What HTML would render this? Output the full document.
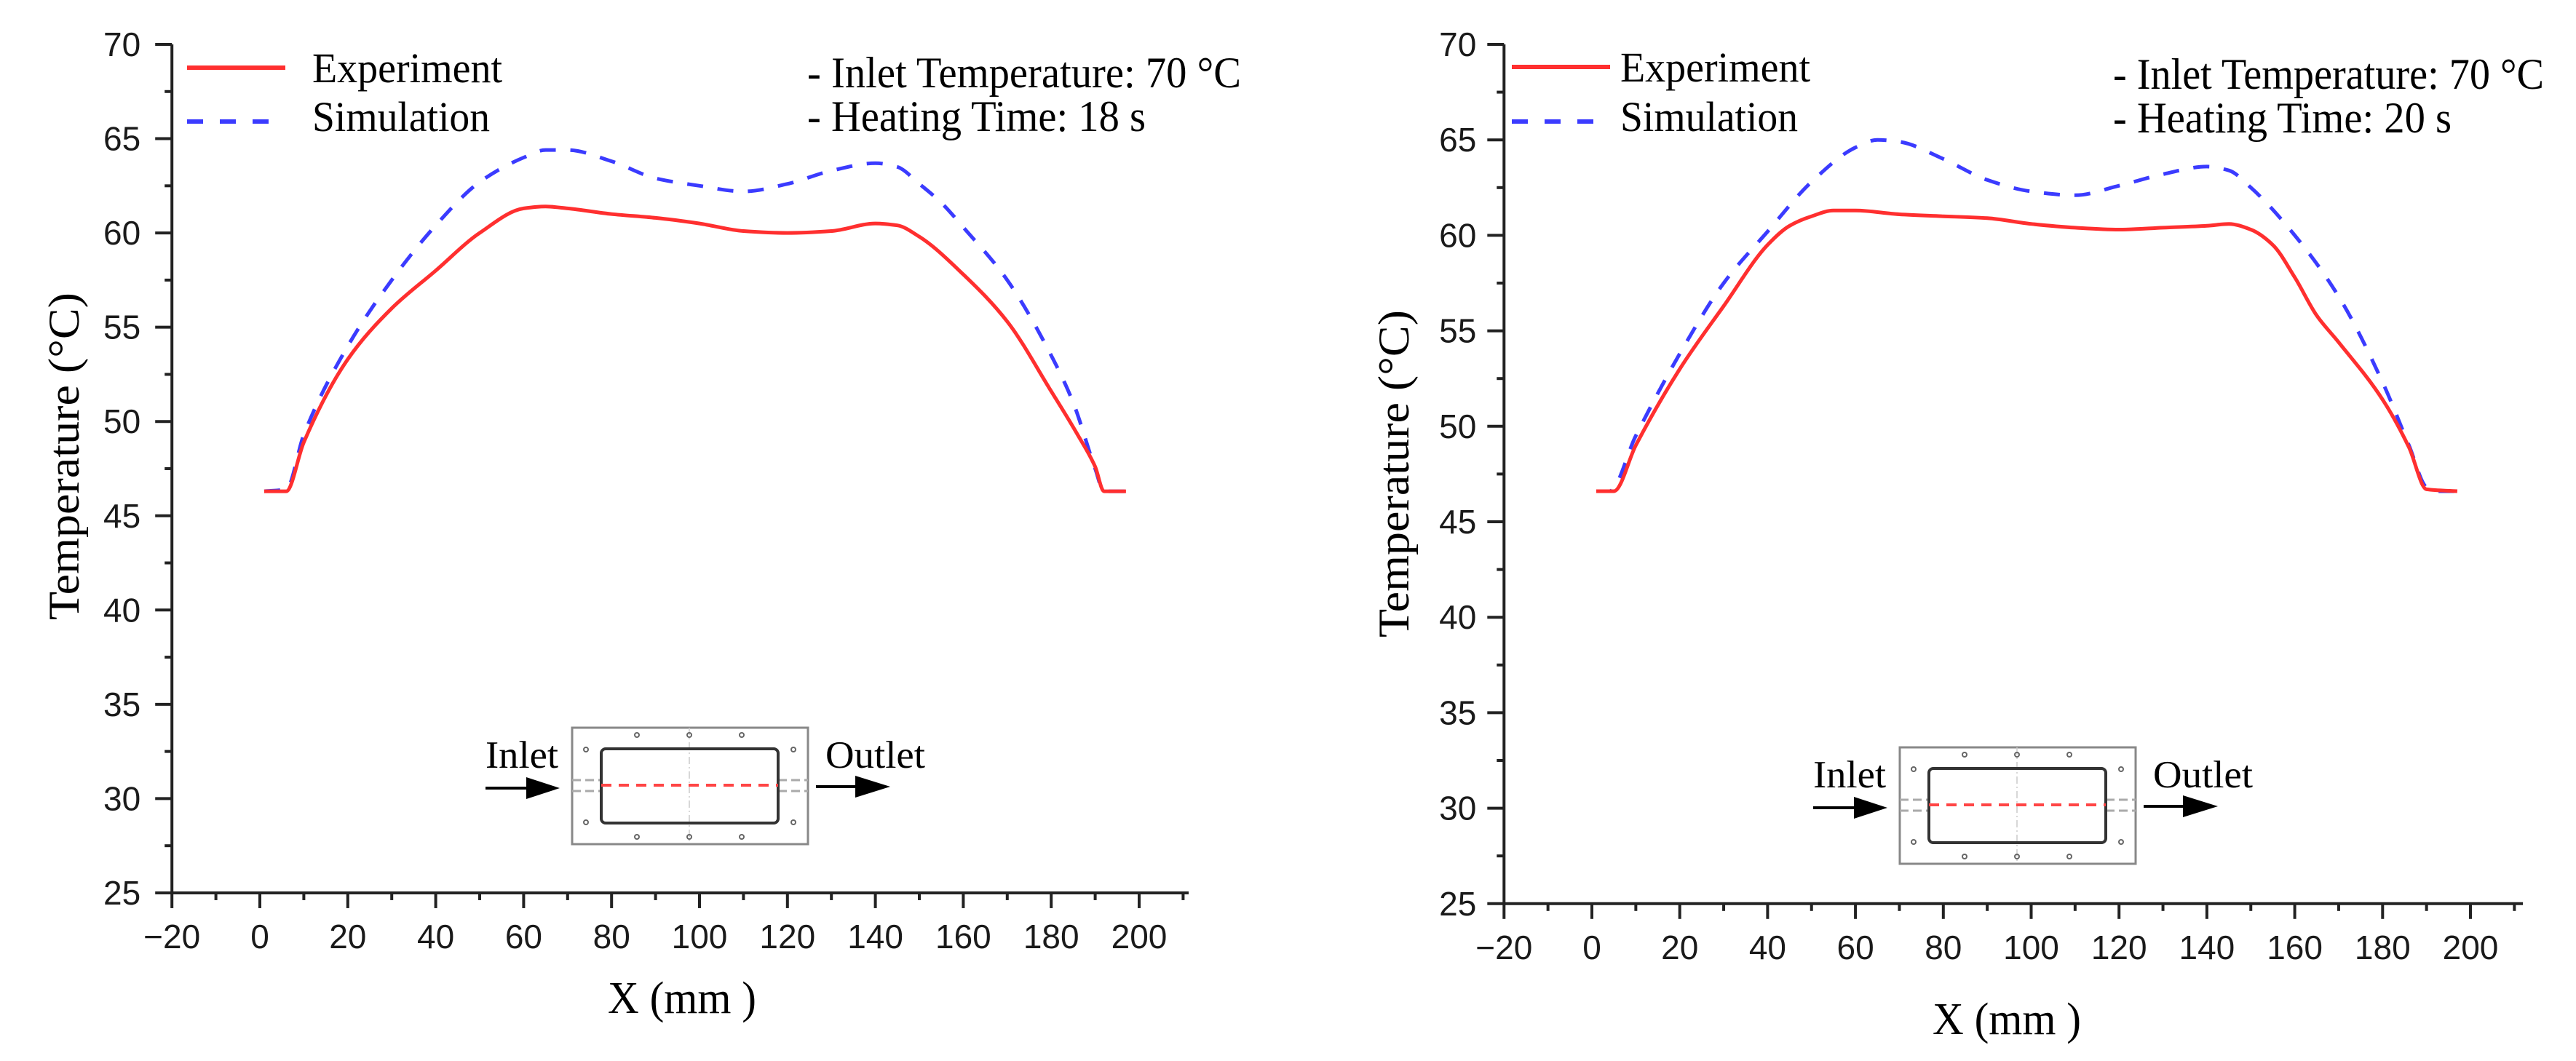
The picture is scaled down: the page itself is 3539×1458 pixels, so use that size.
<!DOCTYPE html>
<html><head><meta charset="utf-8"><style>
html,body{margin:0;padding:0;background:#fff;}
svg{display:block;}
.tick{font-family:"Liberation Sans",Arial,sans-serif;font-size:46px;fill:#1a1a1a;}
.serif{font-family:"Liberation Serif","Times New Roman",serif;fill:#000;}
</style></head><body>
<svg id="fig" width="3539" height="1458" viewBox="0 0 3539 1458" xmlns="http://www.w3.org/2000/svg">
<g id="left"></g>
<g id="right"></g>
</svg>
<script>
// ---- data ----
const xLeft = [1, 6, 10, 20, 30, 40, 50, 60, 65, 70, 80, 90, 100, 110, 120, 130, 140, 145, 150, 160, 170, 180, 186, 190, 192, 197];
const expLeft = [46.3, 46.3, 48.9, 53.3, 56.0, 58.0, 60.0, 61.3, 61.4, 61.3, 61.0, 60.8, 60.5, 60.1, 60.0, 60.1, 60.5, 60.4, 59.8, 57.8, 55.3, 51.6, 49.3, 47.6, 46.3, 46.3];
const xSimLeft = [1, 6, 10, 20, 30, 40, 50, 60, 65, 70, 80, 90, 100, 110, 120, 130, 140, 145, 150, 155, 160, 170, 180, 185, 190, 192, 197];
const simLeft = [46.3, 46.4, 49.3, 54.0, 57.5, 60.4, 62.7, 64.0, 64.4, 64.4, 63.8, 62.9, 62.5, 62.2, 62.6, 63.3, 63.7, 63.5, 62.6, 61.6, 60.3, 57.5, 53.5, 51.0, 47.5, 46.3, 46.3];
const xRight = [1, 5, 10, 20, 30, 40, 45, 50, 55, 60, 70, 80, 90, 100, 110, 120, 130, 140, 145, 150, 155, 160, 165, 170, 180, 186, 190, 197];
const expRight = [46.6, 46.6, 49.0, 53.0, 56.3, 59.5, 60.5, 61.0, 61.3, 61.3, 61.1, 61.0, 60.9, 60.6, 60.4, 60.3, 60.4, 60.5, 60.6, 60.3, 59.5, 57.8, 55.8, 54.4, 51.4, 48.9, 46.7, 46.6];
const xSimRight = [1, 4, 10, 20, 30, 40, 50, 60, 65, 70, 80, 90, 100, 110, 120, 130, 140, 145, 150, 160, 170, 180, 186, 190, 192, 197];
const simRight = [46.6, 46.6, 49.5, 53.8, 57.5, 60.2, 62.8, 64.6, 65.0, 64.9, 64.0, 62.9, 62.3, 62.1, 62.6, 63.2, 63.6, 63.4, 62.5, 60.0, 56.8, 52.3, 49.0, 46.8, 46.6, 46.6];
const xTickLabels = ["-20","0","20","40","60","80","100","120","140","160","180","200"];
const xTickValues = [-20,0,20,40,60,80,100,120,140,160,180,200];
const yTickValues = [25,30,35,40,45,50,55,60,65,70];
const legendLabels = ["Experiment","Simulation"];
const infoLeft = ["- Inlet Temperature: 70 °C","- Heating Time: 18 s"];
const infoRight = ["- Inlet Temperature: 70 °C","- Heating Time: 20 s"];

const NS = "http://www.w3.org/2000/svg";
function mk(parent, tag, attrs, text){
  const e = document.createElementNS(NS, tag);
  for (const k in attrs) e.setAttribute(k, attrs[k]);
  if (text !== undefined) e.textContent = text;
  parent.appendChild(e);
  return e;
}
function smoothPath(pts){
  const n = pts.length;
  const dx = [], m = [], t = new Array(n);
  for (let i = 0; i < n-1; i++){ dx.push(pts[i+1][0]-pts[i][0]); m.push((pts[i+1][1]-pts[i][1])/dx[i]); }
  t[0] = m[0]; t[n-1] = m[n-2];
  for (let i = 1; i < n-1; i++){
    if (m[i-1]*m[i] <= 0) t[i] = 0;
    else { const w1 = 2*dx[i]+dx[i-1], w2 = dx[i]+2*dx[i-1]; t[i] = (w1+w2)/(w1/m[i-1]+w2/m[i]); }
  }
  let d = "M" + pts[0][0].toFixed(1) + "," + pts[0][1].toFixed(1);
  for (let i = 0; i < n-1; i++){
    const h = dx[i]/3;
    d += "C" + (pts[i][0]+h).toFixed(1)+","+(pts[i][1]+t[i]*h).toFixed(1)+" "+(pts[i+1][0]-h).toFixed(1)+","+(pts[i+1][1]-t[i+1]*h).toFixed(1)+" "+pts[i+1][0].toFixed(1)+","+pts[i+1][1].toFixed(1);
  }
  return d;
}

function chart(g, cfg){
  const X = v => cfg.x0 + v * cfg.kx;
  const Y = v => cfg.y70 + (70 - v) * cfg.ky;
  const axY = Y(25), axX = X(-20);
  let e;
  e = mk(g, "line", {x1:axX, y1:Y(70), x2:axX, y2:axY+2, stroke:"#222", "stroke-width":4});
  
  
  e = mk(g, "line", {x1:axX-2, y1:axY, x2:cfg.xEnd, y2:axY, stroke:"#222", "stroke-width":4});
  
  
  for (let v = 25; v <= 70.01; v += 2.5){
    const major = Math.abs(v % 5) < 0.01;
    e = mk(g, "line", {x1:axX - (major?23:10), y1:Y(v), x2:axX, y2:Y(v), stroke:"#222", "stroke-width":4});
    
    
  }
  yTickValues.forEach(v => {
    e = mk(g, "text", {x:axX - cfg.labOff, y:Y(v)+16, "text-anchor":"end", class:"tick"}, String(v));
    
    
  });
  for (let v = -20; v <= 210; v += 10){
    const major = v % 20 === 0;
    e = mk(g, "line", {x1:X(v), y1:axY, x2:X(v), y2:axY + (major?21:10), stroke:"#222", "stroke-width":4});
    
    
  }
  xTickValues.forEach((v,i) => {
    e = mk(g, "text", {x:X(v), y:axY+76, "text-anchor":"middle", class:"tick"}, xTickLabels[i].replace("-","\u2212"));
    
    
  });
  e = mk(g, "text", {x:0, y:0, "text-anchor":"middle", class:"serif", "font-size":60, textLength:450, lengthAdjust:"spacingAndGlyphs", transform:`translate(${cfg.ytX},${cfg.ytY}) rotate(-90)`}, "Temperature (°C)");
  
  
  e = mk(g, "text", {x:cfg.xtX, y:cfg.xtY, "text-anchor":"middle", class:"serif", "font-size":62, textLength:204, lengthAdjust:"spacingAndGlyphs"}, "X (mm )");
  
  
  const sim = cfg.sx.map((x,i)=>[X(x),Y(cfg.sy[i])]);
  e = mk(g, "path", {d:smoothPath(sim), fill:"none", stroke:"#3b3bff", "stroke-width":5, "stroke-dasharray":"22 20"});
  
  
  const ex = cfg.ex.map((x,i)=>[X(x),Y(cfg.ey[i])]);
  e = mk(g, "path", {d:smoothPath(ex), fill:"none", stroke:"#ff2f2f", "stroke-width":5});
  
  
  e = mk(g, "line", {x1:cfg.lgX, y1:cfg.lgY1, x2:cfg.lgX+135, y2:cfg.lgY1, stroke:"#ff2f2f", "stroke-width":6});
  
  
  e = mk(g, "line", {x1:cfg.lgX, y1:cfg.lgY2, x2:cfg.lgX+135, y2:cfg.lgY2, stroke:"#3b3bff", "stroke-width":6, "stroke-dasharray":"22 23"});
  
  
  e = mk(g, "text", {x:cfg.ltX, y:cfg.lgY1+20, class:"serif", "font-size":58, textLength:261, lengthAdjust:"spacingAndGlyphs"}, legendLabels[0]);
  
  
  e = mk(g, "text", {x:cfg.ltX, y:cfg.lgY2+13, class:"serif", "font-size":58, textLength:244, lengthAdjust:"spacingAndGlyphs"}, legendLabels[1]);
  
  
  e = mk(g, "text", {x:cfg.inX, y:cfg.inY, class:"serif", "font-size":60, textLength:cfg.inW1, lengthAdjust:"spacingAndGlyphs"}, cfg.info[0]);
  
  
  e = mk(g, "text", {x:cfg.inX, y:cfg.inY+60, class:"serif", "font-size":60, textLength:cfg.inW2, lengthAdjust:"spacingAndGlyphs"}, cfg.info[1]);
  
  
  const ins = mk(g, "g", {transform:`translate(${cfg.insDx},${cfg.insDy})`});
  
  
  mk(ins, "rect", {x:786, y:1000, width:324, height:160, fill:"#fff", stroke:"#888", "stroke-width":3});
  mk(ins, "line", {x1:947, y1:1000, x2:947, y2:1160, stroke:"#ccc", "stroke-width":1.5, "stroke-dasharray":"10 4 2 4"});
  mk(ins, "line", {x1:786, y1:1072, x2:826, y2:1072, stroke:"#aaa", "stroke-width":3, "stroke-dasharray":"12 6"});
  mk(ins, "line", {x1:786, y1:1087, x2:826, y2:1087, stroke:"#aaa", "stroke-width":3, "stroke-dasharray":"12 6"});
  mk(ins, "line", {x1:1069, y1:1072, x2:1110, y2:1072, stroke:"#aaa", "stroke-width":3, "stroke-dasharray":"12 6"});
  mk(ins, "line", {x1:1069, y1:1087, x2:1110, y2:1087, stroke:"#aaa", "stroke-width":3, "stroke-dasharray":"12 6"});
  mk(ins, "rect", {x:826, y:1029, width:243, height:102, rx:6, fill:"none", stroke:"#333", "stroke-width":4});
  mk(ins, "line", {x1:826, y1:1079, x2:1069, y2:1079, stroke:"#ff4545", "stroke-width":4, "stroke-dasharray":"14 10"});
  [[875,1010],[947,1010],[1019,1010],[805,1030],[1090,1030],[805,1130],[1090,1130],[875,1150],[947,1150],[1019,1150]].forEach(p=>{
    mk(ins, "circle", {cx:p[0], cy:p[1], r:3, fill:"none", stroke:"#666", "stroke-width":2});
  });
  mk(ins, "line", {x1:667, y1:1083, x2:726, y2:1083, stroke:"#000", "stroke-width":4});
  mk(ins, "polygon", {points:"723,1068 769,1083 723,1098", fill:"#000"});
  mk(ins, "line", {x1:1121, y1:1081, x2:1178, y2:1081, stroke:"#000", "stroke-width":4});
  mk(ins, "polygon", {points:"1175,1066 1223,1081 1175,1096", fill:"#000"});
  e = mk(ins, "text", {x:667, y:1055, class:"serif", "font-size":53, textLength:100, lengthAdjust:"spacingAndGlyphs"}, "Inlet");
  
  
  e = mk(ins, "text", {x:1134, y:1055, class:"serif", "font-size":53, textLength:137, lengthAdjust:"spacingAndGlyphs"}, "Outlet");
  
  
}

chart(document.getElementById("left"), {
  x0:357, kx:6.04, y70:61, ky:25.91, xEnd:1633, labOff:43,
  sx:xSimLeft, sy:simLeft, ex:xLeft, ey:expLeft,
  ytX:108, ytY:627, xtX:937, xtY:1392,
  lgX:257, lgY1:93, lgY2:167, ltX:429,
  inX:1109, inY:120, inW1:596, inW2:465, info:infoLeft,
  insDx:0, insDy:0
});
chart(document.getElementById("right"), {
  x0:2187, kx:6.035, y70:61, ky:26.24, xEnd:3466, labOff:38,
  sx:xSimRight, sy:simRight, ex:xRight, ey:expRight,
  ytX:1935, ytY:651, xtX:2757, xtY:1421,
  lgX:2077, lgY1:92, lgY2:167, ltX:2226,
  inX:2903, inY:122, inW1:592, inW2:465, info:infoRight,
  insDx:1824, insDy:27
});
</script>
</body></html>
